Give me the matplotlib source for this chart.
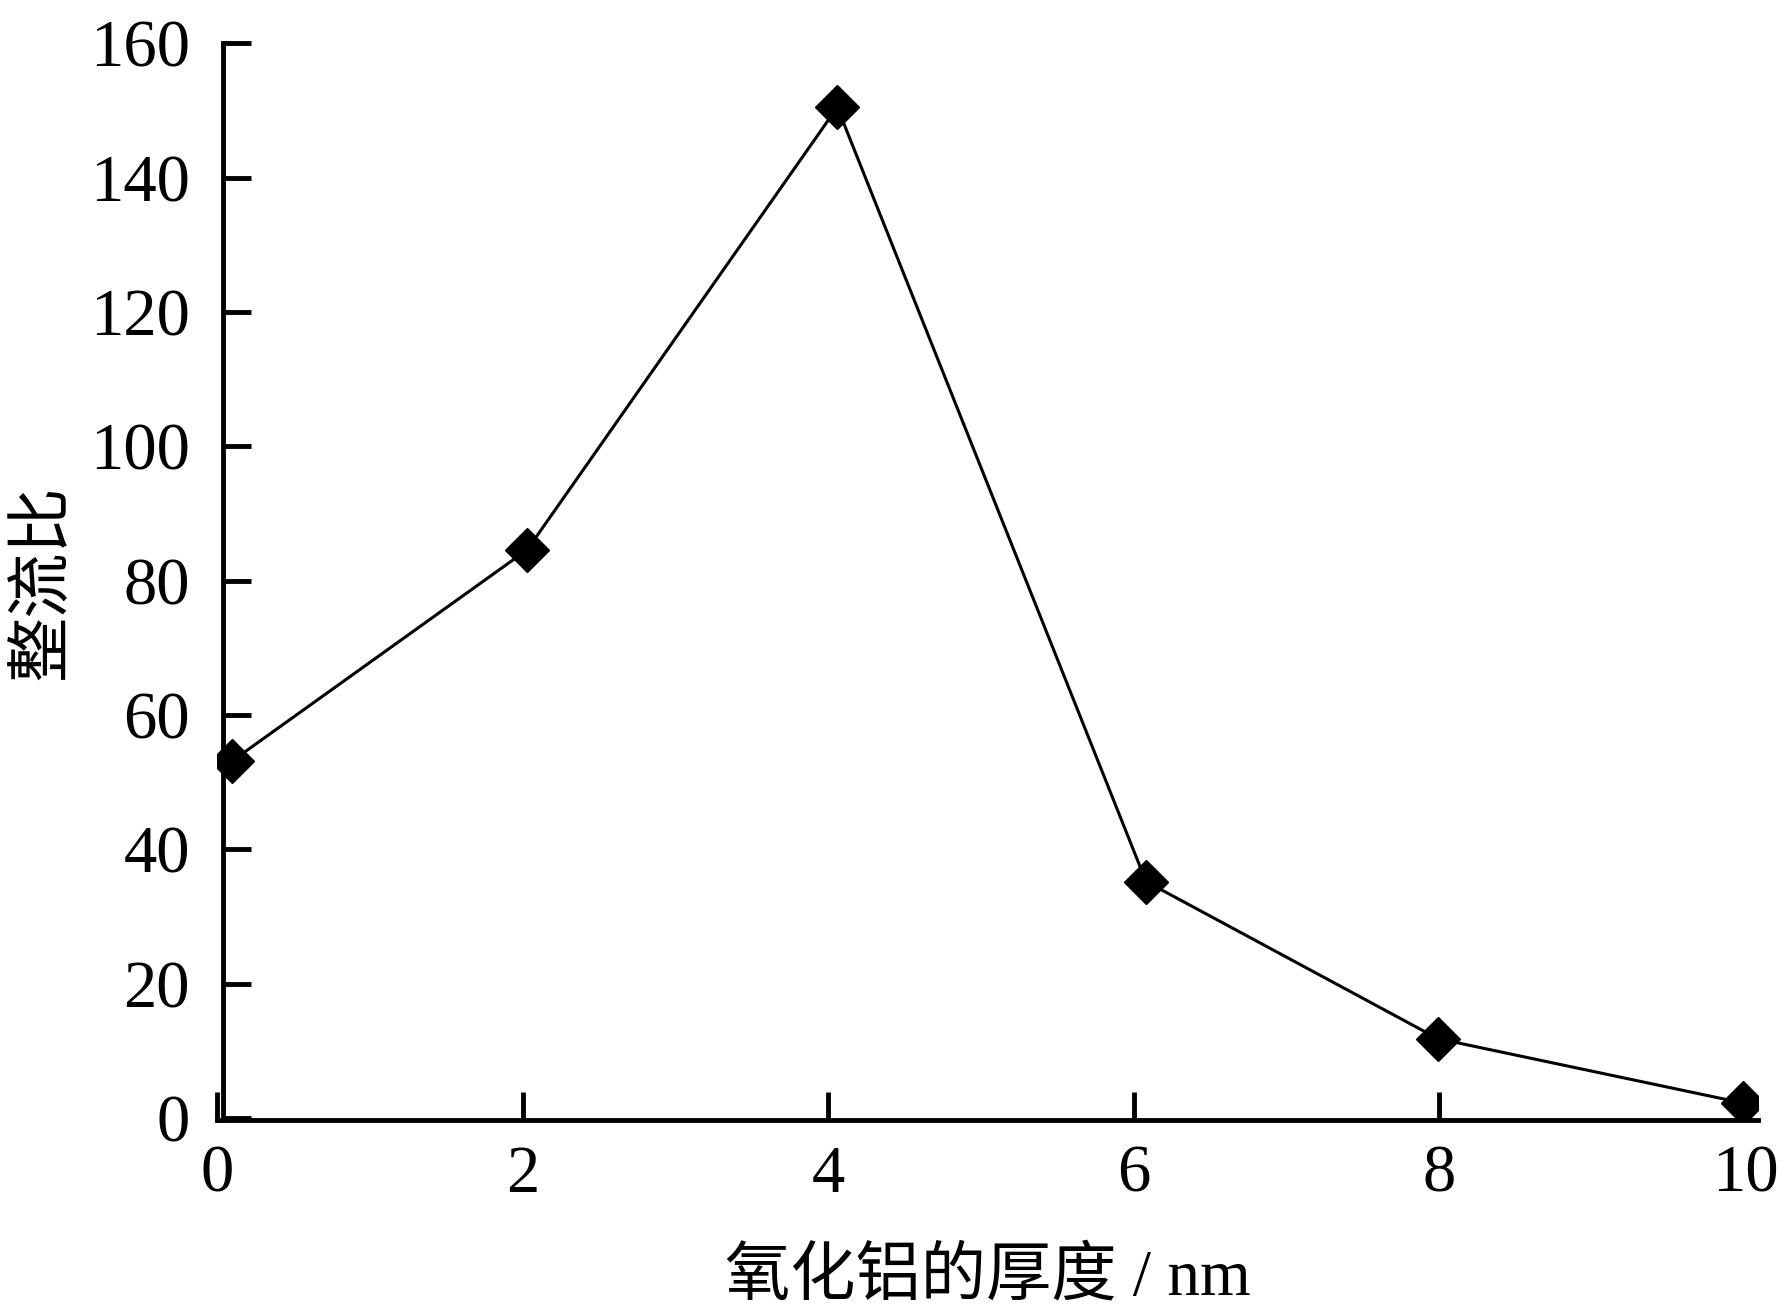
import matplotlib
matplotlib.use("Agg")
from matplotlib import pyplot as plt

# 氧化铝厚度 (nm) 与整流比
thickness = [0.096, 2.03, 4.06, 6.08, 7.99, 9.99]
ratio = [53.1, 84.6, 150.5, 35.2, 11.8, 2.2]
x_ticks = [0, 2, 4, 6, 8, 10]
y_ticks = [0, 20, 40, 60, 80, 100, 120, 140, 160]

plt.rcParams['font.family'] = ['Liberation Serif', 'Noto Sans CJK SC']

fig = plt.figure(figsize=(17.86, 13.16), dpi=100)
ax = fig.add_axes([0.1215, 0.149, 0.8628, 0.818])

ax.plot(thickness, ratio, '-', color='black', linewidth=2.2,
        marker='D', markersize=22, markerfacecolor='black', markeredgecolor='black')

ax.set_xlim(0, 10.085)
ax.set_ylim(-0.3, 160)
ax.set_xticks(x_ticks)
ax.set_yticks(y_ticks)

ax.spines['top'].set_visible(False)
ax.spines['right'].set_visible(False)
# y 轴略偏离 x=0，与原图一致
ax.spines['left'].set_position(('data', 0.04))
for s in ('left', 'bottom'):
    ax.spines[s].set_linewidth(3.5)

ax.tick_params(direction='in', length=20, width=3.5, labelsize=48, pad=18)
ax.tick_params(axis='y', pad=24)

ax.set_xlabel('氧化铝的厚度 / nm', fontsize=47, labelpad=30)
ax.set_ylabel('整流比', family=['Noto Sans CJK SC'], fontsize=47, labelpad=10)

fig.savefig('out.png', dpi=100)
